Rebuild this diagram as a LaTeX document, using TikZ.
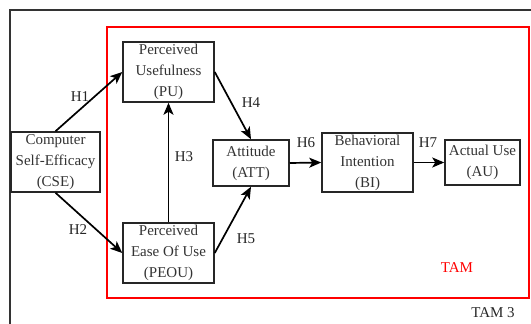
\documentclass[tikz,border=0pt]{standalone}
\usepackage{fontspec}
\setmainfont{Liberation Serif}
\usetikzlibrary{arrows.meta}
\begin{document}
\begin{tikzpicture}[x=1pt,y=-1pt,
  box/.style={draw=black!85,line width=1.5pt,inner sep=0pt,align=center,
    font=\fontsize{15}{21}\selectfont,text=black!80},
  lbl/.style={font=\fontsize{15}{16}\selectfont,text=black!85,inner sep=0pt},
  arr/.style={line width=1.7pt,-{Stealth[length=12pt,width=10pt,inset=3pt]}}]
\useasboundingbox (0,0) rectangle (531,324);
\draw[line width=1.5pt,black!80] (10,330) -- (10,10) -- (540,10);
\draw[red,line width=1.3pt] (107,27) rectangle (529,298);
\node[box,minimum width=91pt,minimum height=60pt] (pu) at (168.5,72) {Perceived\\Usefulness\\(PU)};
\node[box,minimum width=89pt,minimum height=60pt] (cse) at (55.5,162) {Computer\\Self-Efficacy\\(CSE)};
\node[box,minimum width=91pt,minimum height=60pt] (peou) at (168.5,253) {Perceived\\Ease Of Use\\(PEOU)};
\node[box,minimum width=76pt,minimum height=46pt] (att) at (251,163) {Attitude\\(ATT)};
\node[box,minimum width=91pt,minimum height=59pt] (bi) at (367.5,162.5) {Behavioral\\Intention\\(BI)};
\node[box,minimum width=75pt,minimum height=45pt] (au) at (482.5,162.5) {Actual Use\\(AU)};
\draw[arr] (cse.north) -- (pu.west);
\draw[arr] (cse.south) -- (peou.west);
\draw[arr] (peou.north) -- (pu.south);
\draw[arr] (pu.east) -- (att.north);
\draw[arr] (peou.east) -- (att.south);
\draw[arr] (att.east) -- (bi.west);
\draw[arr] (bi.east) -- (au.west);
\node[lbl] (h1) at (80,97) {H1};
\node[lbl] (h2) at (78,230) {H2};
\node[lbl] (h3) at (184,157) {H3};
\node[lbl] (h4) at (251,103) {H4};
\node[lbl] (h5) at (246,239) {H5};
\node[lbl] (h6) at (306,143) {H6};
\node[lbl] (h7) at (428,143) {H7};
\node[lbl,text=red] (tam) at (457,268) {TAM};
\node[lbl] (tam3) at (493,313) {TAM 3};
\end{tikzpicture}
\end{document}
